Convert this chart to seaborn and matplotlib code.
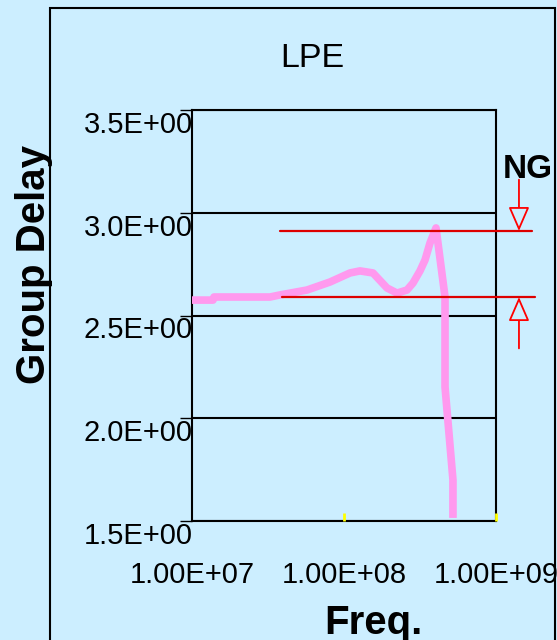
import numpy as np
import pandas as pd
import matplotlib
matplotlib.use("Agg")
import matplotlib.pyplot as plt
import matplotlib.patches as patches
from matplotlib.transforms import ScaledTranslation
from matplotlib.patches import ArrowStyle
import seaborn as sns

# ---- data ----
freq = [1.0e7, 1.375e7, 1.395e7, 3.26e7, 3.79e7, 5.71e7, 8.09e7, 1.095e8, 1.274e8,
        1.551e8, 1.918e8, 2.232e8, 2.597e8, 2.844e8, 3.162e8, 3.412e8, 3.680e8,
        4.03e8, 4.62e8, 4.62e8, 5.21e8, 5.21e8]
delay = [2.575, 2.575, 2.590, 2.590, 2.600, 2.624, 2.663, 2.707, 2.717,
         2.707, 2.634, 2.609, 2.624, 2.658, 2.717, 2.770, 2.853,
         2.926, 2.590, 2.152, 1.700, 1.515]

ng_upper = 2.911
ng_lower = 2.590
ng_upper_span = [3.79e7, 1.73e9]
ng_lower_span = [3.91e7, 1.81e9]
arrow_freq = 1.416e9

y_ticks = [1.5, 2.0, 2.5, 3.0, 3.5]
y_tick_labels = ["1.5E+00", "2.0E+00", "2.5E+00", "3.0E+00", "3.5E+00"]
x_ticks = [1e7, 1e8, 1e9]
x_tick_labels = ["1.00E+07", "1.00E+08", "1.00E+09"]

title = "LPE"
x_label = "Freq."
y_label = "Group Delay"
ng_label = "NG"

BG = "#cceeff"
PINK = "#ff99ee"

sns.set_theme(style="white")
plt.rcParams["font.family"] = ["Liberation Sans", "DejaVu Sans"]

W, H = 557, 640
fig = plt.figure(figsize=(W / 100, H / 100), dpi=100)
fig.patch.set_facecolor(BG)

ax = fig.add_axes([192 / W, 1 - 521 / H, (496 - 192) / W, (521 - 110) / H])
ax.set_facecolor(BG)

df = pd.DataFrame({"freq": freq, "delay": delay})
sns.lineplot(data=df, x="freq", y="delay", sort=False, estimator=None, ax=ax,
             color=PINK, linewidth=5.5, solid_capstyle="butt", zorder=3)

ax.set_xscale("log")
ax.set_xlim(1e7, 1e9)
ax.set_ylim(1.5, 3.5)
ax.set_xticks(x_ticks)
ax.set_xticklabels(x_tick_labels)
ax.xaxis.set_minor_locator(matplotlib.ticker.NullLocator())
ax.set_yticks(y_ticks)
ax.set_yticklabels(y_tick_labels)
ax.set_xlabel("")
ax.set_ylabel("")

ax.grid(axis="y", color="black", linewidth=1.5)
ax.grid(axis="x", visible=False)
for s in ax.spines.values():
    s.set_color("black")
    s.set_linewidth(1.5)
    s.set_zorder(2)

ax.tick_params(axis="y", direction="out", length=9, width=1, color="black",
               pad=-9.5, labelsize=21, labelcolor="black", left=True)
ax.tick_params(axis="x", direction="in", length=6, width=2, color="#ffff00",
               pad=29, labelsize=21, labelcolor="black", bottom=True)
ax.xaxis.set_zorder(2.6)
ax.xaxis.get_major_ticks()[0].tick1line.set_visible(False)
off = ScaledTranslation(0, -0.12, fig.dpi_scale_trans)
for lab in ax.get_yticklabels():
    lab.set_transform(lab.get_transform() + off)

# NG limit lines
ax.plot(ng_upper_span, [ng_upper, ng_upper], color="#dd0000", lw=1.6,
        clip_on=False, zorder=4)
ax.plot(ng_lower_span, [ng_lower, ng_lower], color="#dd0000", lw=1.6,
        clip_on=False, zorder=4)

style = ArrowStyle("-|>", head_length=1.5, head_width=0.65)
for yv, dy in [(ng_upper, 37), (ng_lower, -37)]:
    ax.annotate("", xy=(arrow_freq, yv), xycoords="data",
                xytext=(0, dy), textcoords="offset points",
                arrowprops=dict(arrowstyle=style, mutation_scale=10,
                                color="red", fc=BG, ec="red", lw=1.3,
                                shrinkA=0, shrinkB=0),
                annotation_clip=False, zorder=5)

fig.text(528 / W, 1 - 178 / H, ng_label, ha="center", va="baseline",
         fontsize=24, fontweight="bold", color="black")

fig.text(312 / W, 1 - 67 / H, title, ha="center", va="baseline",
         fontsize=24.5, color="black")
fig.text(373 / W, 1 - 634 / H, x_label, ha="center", va="baseline",
         fontsize=29, fontweight="bold", color="black")
fig.text(45 / W, 1 - 265 / H, y_label, ha="center", va="baseline",
         rotation=90, rotation_mode="anchor",
         fontsize=29, fontweight="bold", color="black")

outer = patches.Rectangle((50 / W, -0.1), (555 - 50) / W, 1 - 8 / H + 0.1,
                          transform=fig.transFigure, fill=False,
                          edgecolor="black", linewidth=1.5, clip_on=False)
fig.add_artist(outer)

fig.savefig("out.png", dpi=100, facecolor=fig.get_facecolor())
